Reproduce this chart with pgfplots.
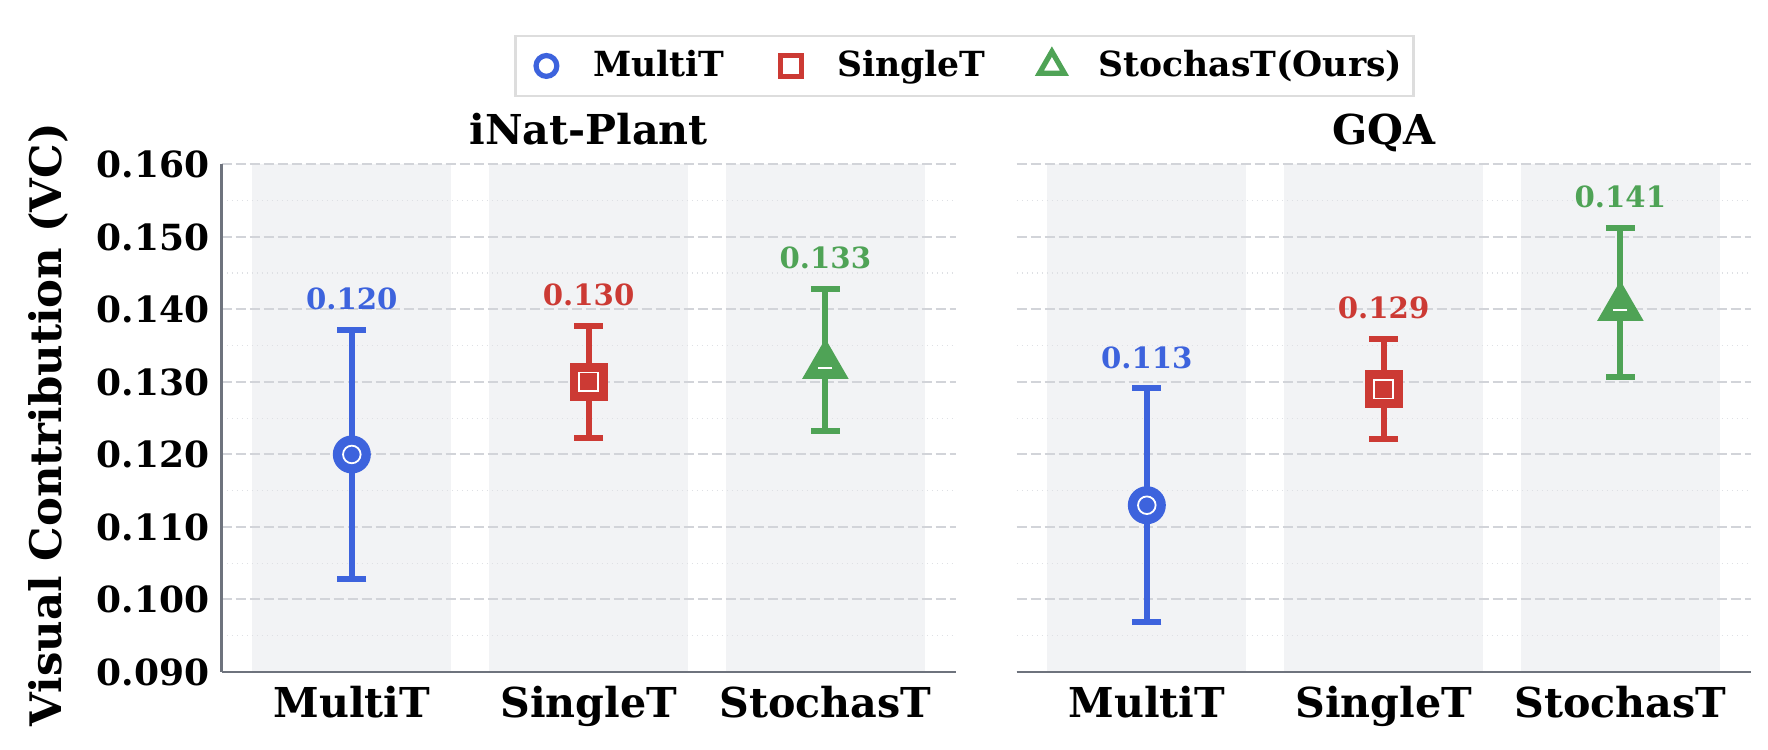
\documentclass[border=0pt]{standalone}
\usepackage{fontspec}
\setmainfont{DejaVu Serif}
\usepackage{pgfplots}
\pgfplotsset{compat=1.18}

\definecolor{cblue}{RGB}{61,99,221}
\definecolor{cred}{RGB}{204,58,52}
\definecolor{cgreen}{RGB}{79,163,86}
\definecolor{band}{RGB}{242,243,245}
\definecolor{gridc}{RGB}{210,212,217}
\definecolor{gridm}{RGB}{222,224,228}
\definecolor{spine}{RGB}{110,115,125}
\definecolor{legframe}{RGB}{221,221,221}

\newcommand{\tickfont}{\bfseries\fontsize{9}{10}\selectfont}
\newcommand{\labfont}{\bfseries\fontsize{10.3}{12}\selectfont}
\newcommand{\valfont}{\bfseries\fontsize{7.3}{8}\selectfont}

\pgfplotsset{
  every error bar/.append style={line width=1.5pt},
  panel/.style={
    scale only axis, width=183.5pt, height=126.9pt,
    set layers,
    xmin=-0.55, xmax=2.55, ymin=0.09, ymax=0.16,
    xtick={0,1,2}, xticklabels={MultiT,SingleT,StochasT},
    ytick={0.09,0.10,0.11,0.12,0.13,0.14,0.15,0.16},
    minor ytick={0.095,0.105,0.115,0.125,0.135,0.145,0.155},
    major tick length=0pt, minor tick length=0pt,
    ymajorgrids, yminorgrids,
    major grid style={gridc, line width=0.5pt, dash pattern=on 2.5pt off 1pt},
    minor grid style={gridm, line width=0.35pt, dash pattern=on 0.35pt off 0.9pt},
    axis x line*=bottom, axis y line*=left,
    axis line style={-, spine, line width=0.6pt},
    xticklabel style={font=\labfont, anchor=base, yshift=-11.5pt, inner sep=0pt},
    yticklabel style={font=\tickfont, anchor=east, inner sep=0pt, xshift=-2.8pt},
    title style={font=\labfont, at={(0.5,1)}, anchor=base, yshift=-0.9pt},
    clip=false,
  },
  errb/.style={
    only marks, color=#1, line width=1.5pt, mark options={draw=none, fill=#1},
    error bars/y dir=both, error bars/y explicit,
    error bars/error bar style={/tikz/line width=1.5pt, #1},
    error bars/error mark options={rotate=90, /tikz/line width=1.5pt, mark size=3.65pt, #1},
  },
}

\begin{document}
\begin{tikzpicture}
\path (0,0) rectangle (442pt,187.5pt);

% ---------------- iNat-Plant ----------------
\begin{axis}[panel, at={(55.4pt,19.5pt)}, anchor=south west,
  title={iNat-Plant},
  yticklabels={0.090,0.100,0.110,0.120,0.130,0.140,0.150,0.160},
  ylabel={Visual Contribution (VC)},
  ylabel style={font=\bfseries\fontsize{10.85}{12}\selectfont,
    at={(axis description cs:-0.236,0.487)}, anchor=center},
  legend style={at={(1.012,1.194)}, anchor=center, legend columns=3,
    draw=legframe, line width=0.6pt, fill=white,
    font=\bfseries\fontsize{8.65}{10}\selectfont,
    inner xsep=2.8pt, inner ysep=1.5pt,
    nodes={inner xsep=0pt},
    /tikz/every even column/.append style={column sep=11.6pt},
    /tikz/every odd column/.append style={column sep=6.3pt}},
  legend image code/.code={\path (-4.3pt,0pt) (4.7pt,0pt);
    \draw[#1] plot coordinates {(0pt,0pt)};},
]
\begin{pgfonlayer}{axis background}
  \fill[band] (axis cs:-0.42,0.09) rectangle (axis cs:0.42,0.16);
  \fill[band] (axis cs:0.58,0.09) rectangle (axis cs:1.42,0.16);
  \fill[band] (axis cs:1.58,0.09) rectangle (axis cs:2.42,0.16);
\end{pgfonlayer}

\addlegendimage{only marks, mark=o, mark size=2.6pt, line width=1.3pt, cblue}
\addlegendentry{MultiT}
\addlegendimage{only marks, mark=square, mark size=2.6pt, line width=1.3pt, cred}
\addlegendentry{SingleT}
\addlegendimage{only marks, mark=triangle, mark size=3.6pt, line width=1.3pt, cgreen}
\addlegendentry{StochasT(Ours)}

% MultiT
\addplot[errb=cblue, mark=*, mark size=4pt, forget plot]
  coordinates {(0,0.120) +- (0,0.0172)};
\addplot[only marks, mark=o, mark size=2.2pt, white, line width=0.45pt, forget plot]
  coordinates {(0,0.120)};
% SingleT
\addplot[errb=cred, mark=square*, mark size=4pt, forget plot]
  coordinates {(1,0.130) +- (0,0.0077)};
\addplot[only marks, mark=square, mark size=2.33pt, white, line width=0.4pt, forget plot]
  coordinates {(1,0.130)};
% StochasT
\addplot[errb=cgreen, mark=triangle*, mark size=5.2pt, forget plot,
  every mark/.append style={yshift=-1.3pt}]
  coordinates {(2,0.133) +- (0,0.0098)};
\addplot[only marks, mark=-, mark size=1.75pt, white, line width=0.5pt, forget plot,
  every mark/.append style={yshift=-2pt}]
  coordinates {(2,0.133)};

\node[font=\valfont, text=cblue, anchor=base, yshift=5.1pt] at (axis cs:0,0.1372) {0.120};
\node[font=\valfont, text=cred, anchor=base, yshift=5.1pt] at (axis cs:1,0.1377) {0.130};
\node[font=\valfont, text=cgreen, anchor=base, yshift=5.1pt] at (axis cs:2,0.1428) {0.133};
\end{axis}

% ---------------- GQA ----------------
\begin{axis}[panel, at={(254.15pt,19.5pt)}, anchor=south west,
  title={GQA},
  yticklabels={},
  y axis line style={draw=none},
]
\begin{pgfonlayer}{axis background}
  \fill[band] (axis cs:-0.42,0.09) rectangle (axis cs:0.42,0.16);
  \fill[band] (axis cs:0.58,0.09) rectangle (axis cs:1.42,0.16);
  \fill[band] (axis cs:1.58,0.09) rectangle (axis cs:2.42,0.16);
\end{pgfonlayer}

% MultiT
\addplot[errb=cblue, mark=*, mark size=4pt]
  coordinates {(0,0.113) +- (0,0.0161)};
\addplot[only marks, mark=o, mark size=2.2pt, white, line width=0.45pt]
  coordinates {(0,0.113)};
% SingleT
\addplot[errb=cred, mark=square*, mark size=4pt]
  coordinates {(1,0.129) +- (0,0.0069)};
\addplot[only marks, mark=square, mark size=2.33pt, white, line width=0.4pt]
  coordinates {(1,0.129)};
% StochasT
\addplot[errb=cgreen, mark=triangle*, mark size=5.2pt,
  every mark/.append style={yshift=-1.3pt}]
  coordinates {(2,0.141) +- (0,0.0103)};
\addplot[only marks, mark=-, mark size=1.75pt, white, line width=0.5pt,
  every mark/.append style={yshift=-2pt}]
  coordinates {(2,0.141)};

\node[font=\valfont, text=cblue, anchor=base, yshift=5.1pt] at (axis cs:0,0.1291) {0.113};
\node[font=\valfont, text=cred, anchor=base, yshift=5.1pt] at (axis cs:1,0.1359) {0.129};
\node[font=\valfont, text=cgreen, anchor=base, yshift=5.1pt] at (axis cs:2,0.1513) {0.141};
\end{axis}
\end{tikzpicture}
\end{document}
